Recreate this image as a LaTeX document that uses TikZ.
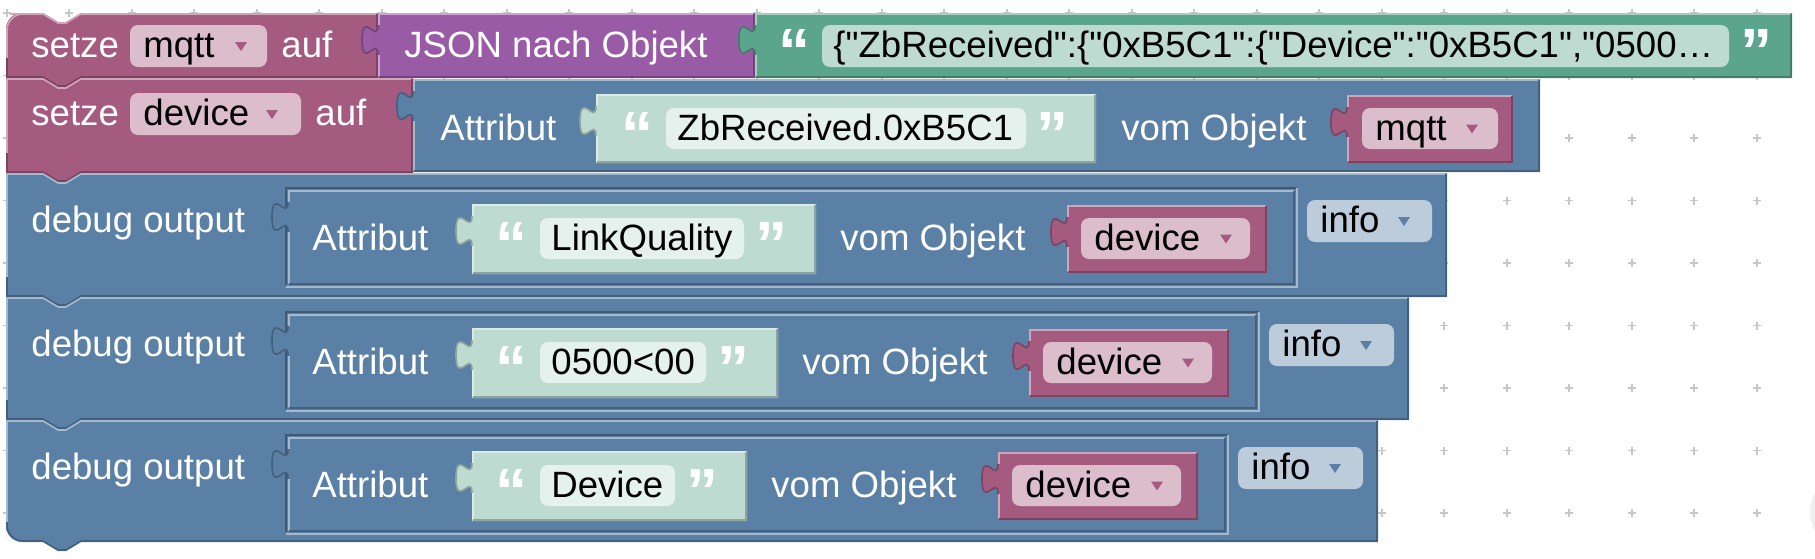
\documentclass[tikz,border=0pt]{standalone}
\usepackage{fontspec}
\setmainfont{Liberation Sans}
\usepackage{xcolor}
\usepackage{tikz}
\definecolor{blkpink}{HTML}{A55B80}
\definecolor{blkpurple}{HTML}{995BA5}
\definecolor{blkgreen}{HTML}{5BA58C}
\definecolor{blkblue}{HTML}{5B80A5}
\colorlet{shadowgreen}{blkgreen!40!white}
\colorlet{fieldgreen}{blkgreen!16!white}
\colorlet{fieldpink}{blkpink!40!white}
\colorlet{fieldblue}{blkblue!40!white}
\newcommand{\blkfont}{\fontsize{18.3pt}{22pt}\selectfont}
\newcommand{\dq}{\textquotedbl}
% statement block: x0, y0, x1, y1, colour, top-left radius, bottom-left radius
\newcommand{\stmtblk}[7]{%
  \fill[#5] (#1,#2+20) [rounded corners=#6*1pt] -- (#1,#2) -- (#1+20,#2) [sharp corners] -- (#1+37,#2)
    -- ++(15,9) -- ++(8,0) -- ++(15,-9) -- (#3,#2) -- (#3,#4) -- (#1+75,#4) -- ++(-15,9) -- ++(-8,0)
    -- ++(-15,-9) -- (#1+20,#4) [rounded corners=#7*1pt] -- (#1,#4) -- (#1,#4-20) [sharp corners] -- cycle;
  \draw[#5!55!white,edge] (#1+1,#4-20) -- (#1+1,#2+20) [rounded corners=#6*1pt] -- (#1+1,#2+1) -- (#1+20,#2+1)
    [sharp corners] -- (#1+37,#2+1) -- ++(15,9) -- ++(8,0) -- ++(15,-9) -- (#3-1,#2+1);
  \draw[#5!75!black,edge] (#3-1,#2+1) -- (#3-1,#4-1) -- (#1+75,#4-1) -- ++(-15,9) -- ++(-8,0) -- ++(-15,-9)
    -- (#1+20,#4-1) [rounded corners=#7*1pt] -- (#1+1,#4-1) -- (#1+1,#4-20);}
% value block with puzzle tab: x0, y0, x1, y1, colour
\newcommand{\valblk}[5]{%
  \fill[#5] (#1,#2) -- (#3,#2) -- (#3,#4) -- (#1,#4) -- (#1,#2+42)
    .. controls (#1,#2+22) and (#1-16,#2+58) .. (#1-16,#2+27)
    .. controls (#1-16,#2-4) and (#1,#2+32) .. (#1,#2+12) -- cycle;
  \draw[#5!75!black,edge] (#1,#2+42) .. controls (#1,#2+22) and (#1-16,#2+58) .. (#1-16,#2+27)
    .. controls (#1-16,#2-4) and (#1,#2+32) .. (#1,#2+12);
  \draw[#5!55!white,edge] (#1+1,#2+12) -- (#1+1,#2+1) -- (#3-1,#2+1) (#1+1,#2+42) -- (#1+1,#4-1);
  \draw[#5!75!black,edge] (#3-1,#2+1) -- (#3-1,#4-1) -- (#1+1,#4-1);}
\newcommand{\ddarrow}[3]{\fill[#3] (#1-6,#2-4) -- (#1+6,#2-4) -- (#1,#2+5) -- cycle;}
\begin{document}
\begin{tikzpicture}[x=0.5pt,y=-0.5pt,
  lbl/.style={anchor=base west,inner sep=0pt,text=white,font=\blkfont},
  val/.style={lbl,text=black},
  quot/.style={anchor=north,inner sep=0pt,text=white,font=\fontsize{32pt}{32pt}\selectfont\bfseries},
  edge/.style={line width=0.8pt},
  fld/.style={rounded corners=4pt},
  griddot/.style={draw=black!22,line width=0.8pt}]
  \fill[white] (0,0) rectangle (1815,558);
  \useasboundingbox (0,0) rectangle (1815,558);
  \foreach \gx in {0,...,28}
    \foreach \gy in {0,...,8}
      \draw[griddot] (6.7+62.5*\gx-4,13+62.5*\gy) -- ++(8,0) ++(-4,-4) -- ++(0,8);
  \fill[black!6] (1850,512) circle (40);
  % setze mqtt
  \stmtblk{6}{13}{378}{78}{blkpink}{8}{0.01}
  \node[lbl] (set1) at (31,57.5) {setze};
  \fill[fieldpink,fld] (130,25) rectangle (267,67);
  \node[val] (var1) at (143,57.5) {mqtt};
  \ddarrow{241}{46}{blkpink}
  \node[lbl] (auf1) at (281,57.5) {auf};
  \valblk{378}{13}{755}{78}{blkpurple}
  \node[lbl] (json) at (404,57.5) {JSON nach Objekt};
  \valblk{755}{13}{1792}{78}{blkgreen}
  \fill[shadowgreen,fld] (822,25) rectangle (1729,67);
  \node[quot] (q1a) at (794,29) {“};
  \node[val] (str1) at (833,57.5) {\{\dq ZbReceived\dq:\{\dq 0xB5C1\dq:\{\dq Device\dq:\dq 0xB5C1\dq,\dq 0500…};
  \node[quot] (q1b) at (1756,29) {”};
  % setze device
  \stmtblk{6}{78}{413}{173}{blkpink}{0.01}{0.01}
  \node[lbl] (set2) at (31,125) {setze};
  \fill[fieldpink,fld] (130,93) rectangle (301,135);
  \node[val] (var2) at (143,125) {device};
  \ddarrow{272}{114}{blkpink}
  \node[lbl] (auf2) at (315,125) {auf};
  \valblk{413}{79}{1540}{172}{blkblue}
  \node[lbl] (attr0) at (440,140) {Attribut};
  \valblk{596}{94}{1096}{163}{shadowgreen}
  \fill[fieldgreen,fld] (666,108) rectangle (1026,149);
  \node[quot] (q2a) at (637,112) {“};
  \node[val] (str2) at (677,140) {ZbReceived.0xB5C1};
  \node[quot] (q2b) at (1052,112) {”};
  \node[lbl] (obj0) at (1121,140) {vom Objekt};
  \valblk{1347}{95}{1513}{163}{blkpink}
  \fill[fieldpink,fld] (1362,108) rectangle (1498,149);
  \node[val] (ref0) at (1375,140) {mqtt};
  \ddarrow{1472}{128.5}{blkpink}
  % debug output rows
  \foreach \ya/\yb/\s/\word/\rc/\i in {173/297/0/LinkQuality/0.01/1,297/420/-38/0500<00/0.01/2,420/542/-69/Device/8/3}{
    \stmtblk{6}{\ya}{1447+\s}{\yb}{blkblue}{0.01}{\rc}
    \node[lbl] (dbg\i) at (31,\ya+59) {debug output};
    \draw[blkblue!70!black,edge] (286,\ya+112) -- (286,\ya+15) -- (1297+\s,\ya+15);
    \draw[blkblue!55!white,edge] (1297+\s,\ya+15) -- (1297+\s,\ya+114) -- (286,\ya+114);
    \valblk{288}{\ya+17}{1295+\s}{\ya+112}{blkblue}
    \node[lbl] (attr\i) at (312,\ya+77) {Attribut};
    \valblk{472}{\ya+31}{816+\s}{\ya+101}{shadowgreen}
    \fill[fieldgreen,fld] (540,\ya+45) rectangle (744+\s,\ya+86);
    \node[quot] (qa\i) at (511,\ya+49) {“};
    \node[val] (key\i) at (551,\ya+77) {\word};
    \node[quot] (qb\i) at (771+\s,\ya+49) {”};
    \node[lbl] (obj\i) at (840+\s,\ya+77) {vom Objekt};
    \valblk{1067+\s}{\ya+32}{1267+\s}{\ya+100}{blkpink}
    \fill[fieldpink,fld] (1081+\s,\ya+45) rectangle (1250+\s,\ya+86);
    \node[val] (ref\i) at (1094+\s,\ya+77) {device};
    \ddarrow{1226+\s}{\ya+65.5}{blkpink}
    \fill[fieldblue,fld] (1307+\s,\ya+27) rectangle (1432+\s,\ya+69);
    \node[val] (lvl\i) at (1320+\s,\ya+59) {info};
    \ddarrow{1404+\s}{\ya+48}{blkblue}
  }
\end{tikzpicture}
\end{document}
